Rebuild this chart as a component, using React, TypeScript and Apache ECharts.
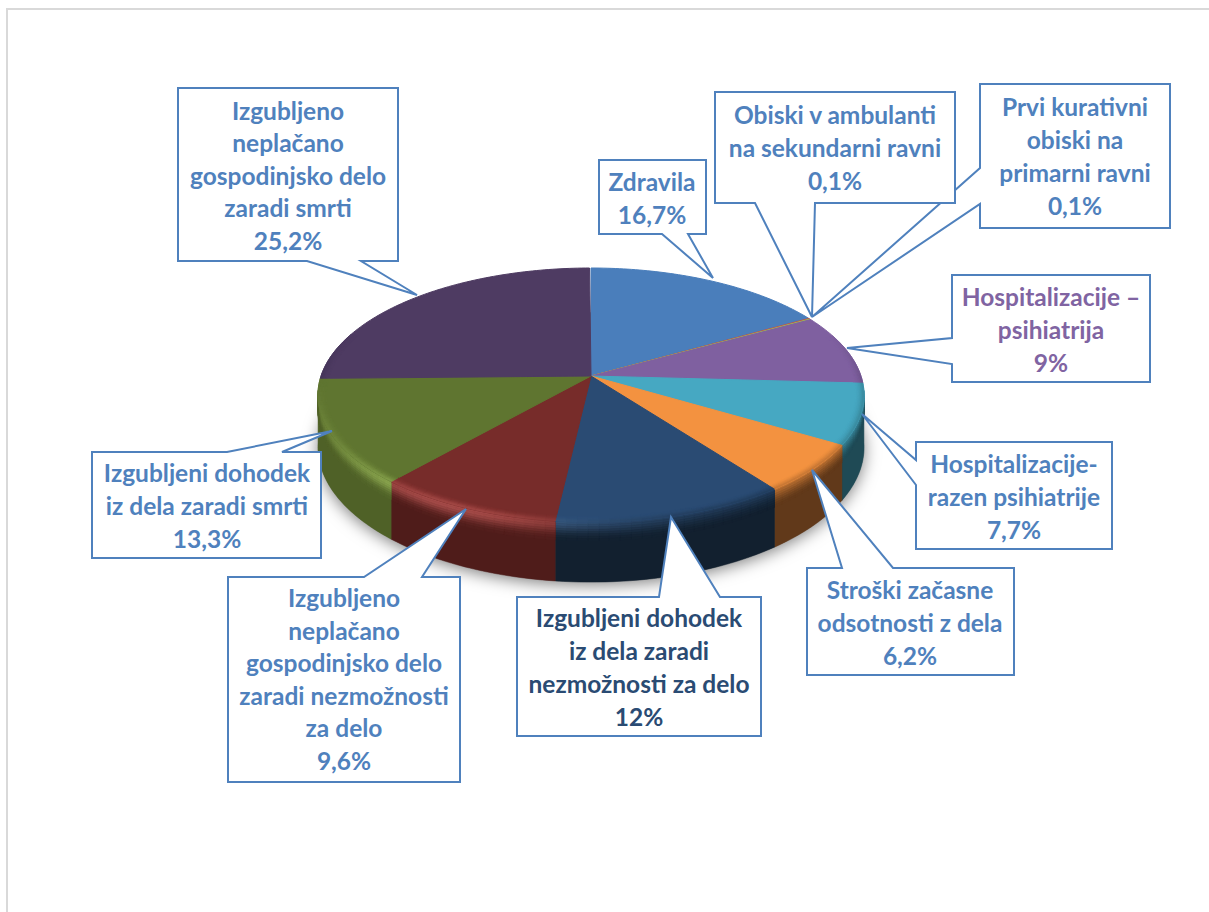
import React, { useEffect, useRef } from "react";
import * as echarts from "echarts";

// ---- data, clockwise from twelve o'clock ----
const sliceNames = [
  "Zdravila",
  "Obiski v ambulanti na sekundarni ravni",
  "Prvi kurativni obiski na primarni ravni",
  "Hospitalizacije – psihiatrija",
  "Hospitalizacije-razen psihiatrije",
  "Stroški začasne odsotnosti z dela",
  "Izgubljeni dohodek iz dela zaradi nezmožnosti za delo",
  "Izgubljeno neplačano gospodinjsko delo zaradi nezmožnosti za delo",
  "Izgubljeni dohodek iz dela zaradi smrti",
  "Izgubljeno neplačano gospodinjsko delo zaradi smrti",
];
const sliceValues = [16.7, 0.1, 0.1, 9, 7.7, 6.2, 12, 9.6, 13.3, 25.2];
const labelLines = [
  ["Zdravila"],
  ["Obiski v ambulanti", "na sekundarni ravni"],
  ["Prvi kurativni", "obiski na", "primarni ravni"],
  ["Hospitalizacije –", "psihiatrija"],
  ["Hospitalizacije-", "razen psihiatrije"],
  ["Stroški začasne", "odsotnosti z dela"],
  ["Izgubljeni dohodek", "iz dela zaradi", "nezmožnosti za delo"],
  ["Izgubljeno", "neplačano", "gospodinjsko delo", "zaradi nezmožnosti", "za delo"],
  ["Izgubljeni dohodek", "iz dela zaradi smrti"],
  ["Izgubljeno", "neplačano", "gospodinjsko delo", "zaradi smrti"],
];

// ---- styles ----
const topColors = ["#4a7ebb", "#c0504d", "#9bbb59", "#7f60a0", "#46a8c2", "#f39240", "#2a4b73", "#772c2a", "#5f7530", "#4e3b62"];
const sideColors = ["#2c4d75", "#772c2a", "#5f7530", "#4d3b62", "#1f4a55", "#61391a", "#12202f", "#4f1c1a", "#4f6127", "#2f2440"];
const labelColors = ["#4f81bd", "#4f81bd", "#4f81bd", "#8064a2", "#4f81bd", "#4f81bd", "#2a4b73", "#4f81bd", "#4f81bd", "#4f81bd"];
const STROKE = "#4f81bd";
const FONT = 'bold 24.5px Lato, "Noto Sans", sans-serif';

// ---- layout: [left, top, right, bottom], pointer outline, text centre ----
type Side = "top" | "bottom" | "left" | "right";
const callouts: { i: number; box: number[]; side: Side; a: number[]; tip: number[]; b: number[]; tx: number; ty: number; lh: number }[] = [
  { i: 2, box: [980, 84, 1170, 228], side: "left", a: [980, 204], tip: [812, 317], b: [980, 168], tx: 1075, ty: 156, lh: 32.7 },
  { i: 1, box: [715, 92, 955, 203], side: "bottom", a: [815, 203], tip: [812, 317], b: [755, 203], tx: 835, ty: 147, lh: 33 },
  { i: 0, box: [599, 160, 706, 234], side: "bottom", a: [688, 234], tip: [713, 278], b: [662, 234], tx: 652, ty: 198, lh: 33 },
  { i: 3, box: [952, 275, 1150, 382], side: "left", a: [952, 364], tip: [847, 348], b: [952, 338], tx: 1051, ty: 329, lh: 33 },
  { i: 4, box: [916, 442, 1112, 549], side: "left", a: [916, 485], tip: [862, 414], b: [916, 460], tx: 1014, ty: 496, lh: 33 },
  { i: 5, box: [807, 568, 1014, 675], side: "top", a: [842, 568], tip: [812, 470], b: [893, 568], tx: 910, ty: 622, lh: 33 },
  { i: 6, box: [517, 597, 761, 736], side: "top", a: [659, 597], tip: [671, 517], b: [720, 597], tx: 639, ty: 667, lh: 32.7 },
  { i: 7, box: [228, 577, 460, 782], side: "top", a: [364, 577], tip: [466, 509], b: [422, 577], tx: 344, ty: 679, lh: 32.6 },
  { i: 8, box: [92, 452, 321, 558], side: "top", a: [227, 452], tip: [332, 431], b: [282, 452], tx: 207, ty: 505, lh: 33 },
  { i: 9, box: [178, 88, 398, 261], side: "bottom", a: [361, 261], tip: [417, 295], b: [307, 261], tx: 288, ty: 175, lh: 32.5 },
];

// ---- perspective disc ----
const CX = 591, CY = 376, RX = 270, RY = 124.2, K = 0.15, DEPTH = 51;
// The wall only shows between these angles, where the rim turns towards the viewer.
const WALL_FROM = (Math.acos(-K) * 180) / Math.PI - 2;
const WALL_TO = 360 - WALL_FROM;

function project(deg: number, r: number, z: number): number[] {
  const t = (deg * Math.PI) / 180;
  const u = Math.sin(t), v = -Math.cos(t);
  const d = 1 - K * v * r;
  return [CX + (RX * u * r) / d, CY + (RY * v * r) / d + z / (1 - K * v)];
}
function hex(c: string): number[] {
  return [1, 3, 5].map((i) => parseInt(c.slice(i, i + 2), 16));
}
function toHex(c: number[]): string {
  return "rgb(" + c.map((x) => Math.max(0, Math.min(255, Math.round(x)))).join(",") + ")";
}
function mix(a: number[], b: number[], w: number): number[] {
  return a.map((x, i) => x + (b[i] - x) * w);
}
function arc(a: number, b: number, r: number, z: number, step: number): number[][] {
  const n = Math.max(1, Math.ceil((b - a) / step));
  const pts: number[][] = [];
  for (let j = 0; j <= n; j++) pts.push(project(a + ((b - a) * j) / n, r, z));
  return pts;
}
function bevelColor(idx: number, deg: number, s: number): string {
  const t = (deg * Math.PI) / 180;
  const u = Math.sin(t), v = -Math.cos(t);
  const top = hex(topColors[idx]), side = hex(sideColors[idx]);
  const e = s * s * (3 - 2 * s);
  let c = mix(top, side, e);
  const h = Math.exp(-Math.pow((u + 0.45) / 0.32, 2) / 2) * Math.max(0, Math.min(1, (v + 0.1) / 0.4));
  const bump = Math.exp(-Math.pow((s - 0.5) / 0.2, 2) / 2) * h;
  c = mix(c.map((x) => x * (1 + 0.55 * bump)), [255, 255, 255], 0.09 * bump);
  const w = Math.max(0, Math.min(1, (v + 0.35) / 0.35));
  return toHex(mix(top, c, w));
}
function bandChildren(idx: number, a: number, b: number, rows: number[][]) {
  const children: any[] = [];
  const n = Math.max(1, Math.ceil((b - a) / 2));
  for (let j = 0; j < n; j++) {
    const d0 = a + ((b - a) * j) / n, d1 = a + ((b - a) * (j + 1)) / n;
    const v = -Math.cos((((d0 + d1) / 2) * Math.PI) / 180);
    for (const [r0, z0, r1, z1, s, minV] of rows) {
      if (v < minV) continue;
      const fill = bevelColor(idx, (d0 + d1) / 2, s);
      children.push({
        type: "polygon",
        shape: { points: [project(d0, r0, z0), project(d1, r0, z0), project(d1, r1, z1), project(d0, r1, z1)] },
        style: { fill, stroke: fill, lineWidth: 0.7 },
      });
    }
  }
  return children;
}
// [r0, z0, r1, z1, s, lowest v]
const insetRows: number[][] = [];
for (let i = 0; i < 6; i++) insetRows.push([0.968 + i * 0.0053, 0, 0.968 + (i + 1) * 0.0053, 0, (i + 0.5) * 0.065, -0.35]);
const edgeRows: number[][] = [];
for (let i = 0; i < 8; i++) edgeRows.push([1, i * 2, 1, (i + 1) * 2, 0.39 + (i + 0.5) * 0.076, -1]);

const cumulative: number[] = [];
sliceValues.reduce((sum, x) => {
  cumulative.push(sum);
  return sum + x;
}, 0);
const sliceData = sliceValues.map((x, i) => ({
  name: sliceNames[i],
  value: [cumulative[i] * 3.6, (cumulative[i] + x) * 3.6, x],
}));

function formatValue(x: number): string {
  return String(x).replace(".", ",") + "%";
}

function calloutPoints(c: (typeof callouts)[number]): number[][] {
  const [l, t, r, bt] = c.box;
  if (c.side === "bottom") return [[l, t], [r, t], [r, bt], c.a, c.tip, c.b, [l, bt]];
  if (c.side === "top") return [[l, t], c.a, c.tip, c.b, [r, t], [r, bt], [l, bt]];
  return [[l, t], [r, t], [r, bt], [l, bt], c.a, c.tip, c.b];
}

export default function App() {
  const ref = useRef<HTMLDivElement>(null);
  useEffect(() => {
    const chart = echarts.init(ref.current!, undefined, { renderer: "svg" });
    const graphicElements: any[] = [
      { type: "line", shape: { x1: 7, y1: 9, x2: 1209, y2: 9 }, style: { stroke: "#d9d9d9", lineWidth: 2 }, z: 0 },
      { type: "line", shape: { x1: 7, y1: 8, x2: 7, y2: 912 }, style: { stroke: "#d9d9d9", lineWidth: 2 }, z: 0 },
    ];
    callouts.forEach((c, n) => {
      graphicElements.push({
        type: "polygon",
        shape: { points: calloutPoints(c) },
        style: { fill: "#ffffff", stroke: STROKE, lineWidth: 2, lineJoin: "miter", miterLimit: 10 },
        z: 100 + n,
      });
    });
    callouts.forEach((c) => {
      graphicElements.push({
        type: "text",
        style: {
          text: [...labelLines[c.i], formatValue(sliceValues[c.i])].join("\n"),
          x: c.tx,
          y: c.ty,
          align: "center",
          verticalAlign: "middle",
          font: FONT,
          lineHeight: c.lh,
          fill: labelColors[c.i],
        },
        z: 200,
      });
    });

    const base = { type: "custom", coordinateSystem: "none", silent: true, animation: false, data: sliceData } as any;
    chart.setOption({
      animation: false,
      backgroundColor: "#ffffff",
      graphic: { elements: graphicElements },
      series: [
        {
          ...base,
          name: "shadow",
          z: 1,
          data: [{ name: "disc", value: [0, 360] }],
          renderItem: (_p: any, api: any) => ({
            type: "polygon",
            shape: { points: arc(api.value(0), api.value(1), 1, DEPTH, 3) },
            style: { fill: "#777777", shadowBlur: 16, shadowOffsetY: 3, shadowColor: "rgba(0,0,0,0.5)" },
          }),
        },
        {
          ...base,
          name: "side",
          z: 2,
          renderItem: (p: any, api: any) => {
            const a = Math.max(api.value(0), WALL_FROM), b = Math.min(api.value(1), WALL_TO);
            if (b <= a) return { type: "group", children: [] };
            const points = [...arc(a, b, 1, 0, 1.5), ...arc(a, b, 1, DEPTH, 1.5).reverse()];
            return {
              type: "group",
              children: [
                { type: "polygon", shape: { points }, style: { fill: sideColors[p.dataIndex], stroke: sideColors[p.dataIndex], lineWidth: 0.5 } },
                ...bandChildren(p.dataIndex, a, b, edgeRows),
              ],
            };
          },
        },
        {
          ...base,
          name: "top",
          z: 3,
          renderItem: (p: any, api: any) => {
            const points = [[CX, CY], ...arc(api.value(0), api.value(1), 1, 0, 1)];
            return {
              type: "polygon",
              shape: { points },
              style: { fill: topColors[p.dataIndex], stroke: topColors[p.dataIndex], lineWidth: 1 },
            };
          },
        },
        {
          ...base,
          name: "bevel",
          z: 4,
          renderItem: (p: any, api: any) => ({
            type: "group",
            children: bandChildren(p.dataIndex, api.value(0), api.value(1), insetRows),
          }),
        },
      ],
    });
    return () => chart.dispose();
  }, []);
  return <div ref={ref} style={{ position: "fixed", left: 0, top: 0, width: 1209, height: 912, background: "#fff" }} />;
}
